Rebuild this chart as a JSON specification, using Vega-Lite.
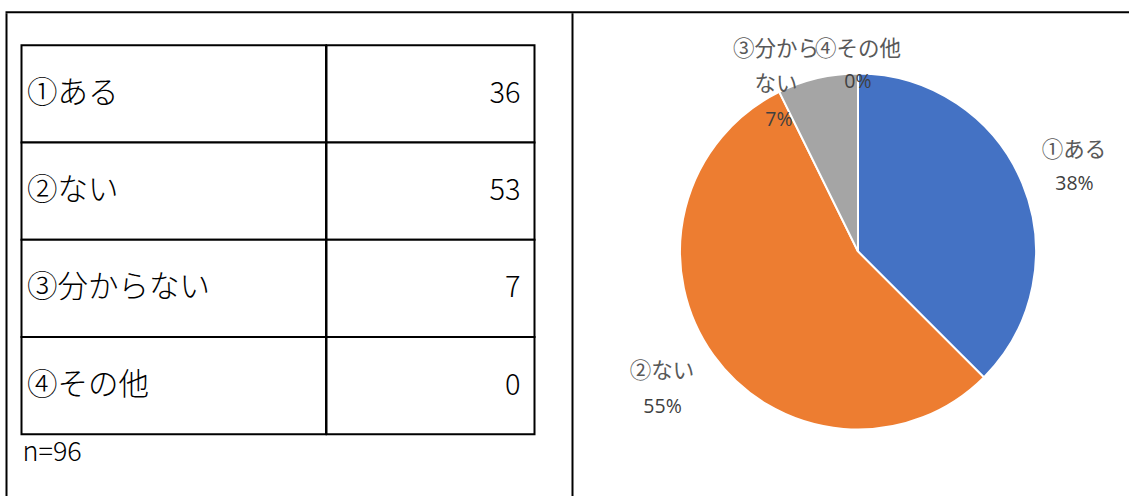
{
  "$schema": "https://vega.github.io/schema/vega-lite/v6.json",
  "background": "white",
  "padding": {"left": 5.5, "top": 11.3, "right": -14, "bottom": 0},
  "config": {"view": {"stroke": null}, "font": "Noto Sans CJK JP", "concat": {"spacing": 0}},
  "datasets": {
    "answers": [
      {"category": "①ある", "count": 36},
      {"category": "②ない", "count": 53},
      {"category": "③分からない", "count": 7},
      {"category": "④その他", "count": 0}
    ],
    "blank": []
  },
  "spacing": 0,
  "vconcat": [
    {"data": {"name": "blank"}, "mark": "point", "width": 1137, "height": 2, "view": {"fill": "black", "stroke": null}},
    {
      "spacing": 0,
      "hconcat": [
        {"data": {"name": "blank"}, "mark": "point", "width": 2, "height": 482.7, "view": {"fill": "black", "stroke": null}},
        {
          "spacing": 0,
          "vconcat": [
            {"data": {"name": "blank"}, "mark": "point", "width": 564, "height": 30.7},
            {
              "spacing": 0,
              "hconcat": [
                {"data": {"name": "blank"}, "mark": "point", "width": 13, "height": 10},
                {
                  "spacing": 0,
                  "vconcat": [
                    {
                      "spacing": 0,
                      "bounds": "flush",
                      "hconcat": [
                        {
                          "data": {"name": "answers"},
                          "width": 304.5,
                          "height": 389,
                          "layer": [
                            {
                              "mark": {"type": "rect", "fill": "white", "stroke": "black", "strokeWidth": 2},
                              "encoding": {
                                "y": {"field": "category", "type": "nominal", "axis": null, "scale": {"paddingInner": 0, "paddingOuter": 0}},
                                "x": {"value": 0},
                                "x2": {"value": "width"}
                              }
                            },
                            {
                              "mark": {"type": "text", "align": "left", "baseline": "middle", "dx": 5.5, "fontSize": 30.5, "fontWeight": 300, "color": "black"},
                              "encoding": {
                                "y": {"field": "category", "type": "nominal", "axis": null},
                                "x": {"value": 0},
                                "text": {"field": "category"}
                              }
                            }
                          ]
                        },
                        {
                          "data": {"name": "answers"},
                          "width": 208,
                          "height": 389,
                          "layer": [
                            {
                              "mark": {"type": "rect", "fill": "white", "stroke": "black", "strokeWidth": 2},
                              "encoding": {
                                "y": {"field": "category", "type": "nominal", "axis": null, "scale": {"paddingInner": 0, "paddingOuter": 0}},
                                "x": {"value": 0},
                                "x2": {"value": "width"}
                              }
                            },
                            {
                              "mark": {"type": "text", "align": "right", "baseline": "middle", "dx": -14, "fontSize": 29, "fontWeight": 300, "color": "black"},
                              "encoding": {
                                "y": {"field": "category", "type": "nominal", "axis": null},
                                "x": {"value": "width"},
                                "text": {"field": "count", "type": "quantitative"}
                              }
                            }
                          ]
                        }
                      ]
                    },
                    {
                      "data": {"name": "answers"},
                      "width": 513,
                      "height": 35,
                      "transform": [
                        {"aggregate": [{"op": "sum", "field": "count", "as": "n"}]},
                        {"calculate": "'n=' + datum.n", "as": "label"}
                      ],
                      "mark": {"type": "text", "align": "left", "baseline": "middle", "dx": 1, "fontSize": 27, "fontWeight": 300, "color": "black"},
                      "encoding": {
                        "x": {"value": 0},
                        "text": {"field": "label"}
                      }
                    }
                  ]
                }
              ]
            }
          ]
        },
        {"data": {"name": "blank"}, "mark": "point", "width": 2, "height": 482.7, "view": {"fill": "black", "stroke": null}},
        {
          "data": {"name": "answers"},
          "width": 569,
          "height": 476.4,
          "transform": [
            {"stack": "count", "groupby": [], "sort": [{"field": "category", "order": "ascending"}], "as": ["start", "end"]},
            {"joinaggregate": [{"op": "sum", "field": "count", "as": "total"}]},
            {"calculate": "(datum.start + datum.end) / 2", "as": "mid"},
            {"calculate": "format(datum.count / datum.total, '.0%')", "as": "pct"},
            {"calculate": "substring(datum.category, 0, 4) + '\\n' + substring(datum.category, 4)", "as": "wrapped"}
          ],
          "layer": [
            {
              "mark": {"type": "arc", "outerRadius": 178, "stroke": "white", "strokeWidth": 2},
              "encoding": {
                "theta": {"field": "start", "type": "quantitative", "stack": null},
                "theta2": {"field": "end"},
                "color": {"field": "category", "type": "nominal", "legend": null, "scale": {"range": ["#4472C4", "#ED7D31", "#A5A5A5", "#FFC000"]}}
              }
            },
            {
              "transform": [{"filter": "datum.category === '①ある'"}],
              "mark": {"type": "text", "radius": 230, "dx": 3.5, "dy": -12, "fontSize": 21.5, "color": "#595959", "baseline": "middle"},
              "encoding": {"theta": {"field": "mid", "type": "quantitative", "stack": null}, "text": {"field": "category"}}
            },
            {
              "transform": [{"filter": "datum.category === '①ある'"}],
              "mark": {"type": "text", "radius": 230, "dx": 4, "dy": 20.2, "fontSize": 19.5, "font": "Open Sans", "color": "#404040", "baseline": "middle"},
              "encoding": {"theta": {"field": "mid", "type": "quantitative", "stack": null}, "text": {"field": "pct"}}
            },
            {
              "transform": [{"filter": "datum.category === '②ない'"}],
              "mark": {"type": "text", "radius": 230, "dx": -9, "dy": -13.5, "fontSize": 21.5, "color": "#595959", "baseline": "middle"},
              "encoding": {"theta": {"field": "mid", "type": "quantitative", "stack": null}, "text": {"field": "category"}}
            },
            {
              "transform": [{"filter": "datum.category === '②ない'"}],
              "mark": {"type": "text", "radius": 230, "dx": -8.5, "dy": 21.3, "fontSize": 19.5, "font": "Open Sans", "color": "#404040", "baseline": "middle"},
              "encoding": {"theta": {"field": "mid", "type": "quantitative", "stack": null}, "text": {"field": "pct"}}
            },
            {
              "transform": [{"filter": "datum.category === '③分からない'"}],
              "mark": {"type": "text", "radius": 186.5, "dx": -39.7, "dy": -19.5, "fontSize": 21.5, "color": "#595959", "baseline": "middle", "lineBreak": "\n", "lineHeight": 35},
              "encoding": {"theta": {"field": "mid", "type": "quantitative", "stack": null}, "text": {"field": "wrapped"}}
            },
            {
              "transform": [{"filter": "datum.category === '③分からない'"}],
              "mark": {"type": "text", "radius": 186.5, "dx": -36.7, "dy": 50.5, "fontSize": 19.5, "font": "Open Sans", "color": "#404040", "baseline": "middle"},
              "encoding": {"theta": {"field": "mid", "type": "quantitative", "stack": null}, "text": {"field": "pct"}}
            },
            {
              "transform": [{"filter": "datum.category === '④その他'"}],
              "mark": {"type": "text", "radius": 186.5, "dx": 0, "dy": -14.5, "fontSize": 21.5, "color": "#595959", "baseline": "middle"},
              "encoding": {"theta": {"field": "mid", "type": "quantitative", "stack": null}, "text": {"field": "category"}}
            },
            {
              "transform": [{"filter": "datum.category === '④その他'"}],
              "mark": {"type": "text", "radius": 186.5, "dx": 0, "dy": 17.5, "fontSize": 19.5, "font": "Open Sans", "color": "#404040", "baseline": "middle"},
              "encoding": {"theta": {"field": "mid", "type": "quantitative", "stack": null}, "text": {"field": "pct"}}
            }
          ]
        }
      ]
    }
  ]
}
